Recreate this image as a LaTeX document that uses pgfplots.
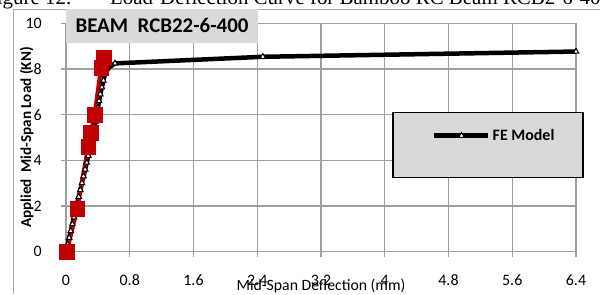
\documentclass[border=0pt]{standalone}
\usepackage{pgfplots}
\pgfplotsset{compat=1.18}
\usepackage{fontspec}
\setmainfont{Carlito}
\newfontfamily\timesfont{Liberation Serif}
\definecolor{boxgray}{HTML}{D9D9D9}
\definecolor{gridgray}{HTML}{A0A0A0}
\definecolor{framegray}{HTML}{A6A6A6}
\definecolor{expred}{HTML}{C00000}
\begin{document}
\begin{tikzpicture}[x=1bp,y=1bp]
% chart frame
\draw[framegray, line width=0.8bp] (13.5,0) -- (13.5,284.5) -- (600,284.5);
\begin{axis}[
  at={(66bp,42.5bp)}, anchor=south west,
  scale only axis, width=510bp, height=228bp,
  xmin=0, xmax=6.4, ymin=0, ymax=10,
  xtick={0,0.8,1.6,2.4,3.2,4,4.8,5.6,6.4},
  xticklabels={0,0.8,1.6,2.4,3.2,4,4.8,5.6,6.4},
  ytick={0,2,4,6,8,10},
  axis lines=left,
  axis line style={-, gridgray, line width=1.2bp},
  grid=major,
  major grid style={gridgray, line width=1.2bp},
  tick align=outside,
  major tick length=5bp,
  tick style={gridgray, line width=1.2bp},
  clip=false,
  /pgf/number format/assume math mode=true,
  tick label style={font=\fontsize{16}{19}\selectfont, black},
  xticklabel style={anchor=base, inner sep=0pt, yshift=-29bp},
  yticklabel style={anchor=east, inner sep=0pt, xshift=-19bp},
  xlabel={Mid-Span Deflection (mm)},
  xlabel style={at={(axis description cs:0.5,0)}, anchor=base, inner sep=0pt, yshift=-38.5bp, font=\fontsize{15.8}{18}\selectfont},
  ylabel={Applied\ \ Mid-Span Load (KN)},
  ylabel style={at={(axis description cs:-0.077,0.5)}, anchor=center, inner sep=0pt, font=\bfseries\fontsize{15.2}{18}\selectfont},
  legend style={at={(axis description cs:0.7177,0.5077)}, anchor=west, fill=none, draw=none, inner sep=0pt,
    font=\bfseries\fontsize{16}{19}\selectfont, nodes={inner sep=2bp}},
  legend image code/.code={\draw[mark repeat=2, mark phase=2] plot coordinates {(0bp,0bp) (27bp,0bp) (54bp,0bp)};},
]
% legend box
\filldraw[fill=boxgray, draw=black, line width=1.2bp] (axis cs:4.103,3.23) rectangle (axis cs:6.488,6.09);
% FE model
\addplot[black, line width=4.5bp, mark=triangle*, mark size=3.2bp, mark options={fill=white, draw=black, line width=1bp}]
 coordinates {
 (0,0) (0.02,0.3) (0.04,0.6) (0.06,0.9) (0.08,1.2) (0.10,1.5) (0.12,1.8) (0.14,2.1)
 (0.16,2.4) (0.18,2.7) (0.20,3.0) (0.22,3.3) (0.24,3.6) (0.26,3.9) (0.28,4.2) (0.30,4.5)
 (0.32,4.8) (0.34,5.1) (0.355,5.4) (0.37,5.7) (0.385,6.0) (0.40,6.3) (0.415,6.6) (0.43,6.9)
 (0.45,7.2) (0.47,7.5) (0.49,7.8) (0.51,8.0) (0.615,8.25) (2.47,8.54) (6.4,8.77)
 };
\addlegendentry{FE Model}
% experimental
\addplot[expred, line width=4.2bp, mark=square*, mark size=7.3bp, mark options={fill=expred, draw=expred, line width=0.5bp}, forget plot]
 coordinates {
 (0.01,0) (0.14,1.88) (0.28,4.6) (0.31,5.2) (0.36,6.0) (0.44,8.06) (0.47,8.5)
 };
\end{axis}
% title box
\fill[boxgray] (66,251.3) rectangle (258,284.5);
\node[font=\bfseries\fontsize{21}{24}\selectfont, inner sep=0pt] at (162,269) {BEAM\ \ RCB22-6-400};
% caption (cut at top)
\node[anchor=base east, inner sep=0pt, font=\timesfont\fontsize{21}{24}\selectfont] at (72,290) {Figure 12:};
\node[anchor=base west, inner sep=0pt, font=\timesfont\fontsize{21}{24}\selectfont] at (110,290) {Load-Deflection Curve for Bamboo RC Beam RCB2-6-400};
\pgfresetboundingbox
\useasboundingbox (0,0) rectangle (600,294);
\end{tikzpicture}
\end{document}
